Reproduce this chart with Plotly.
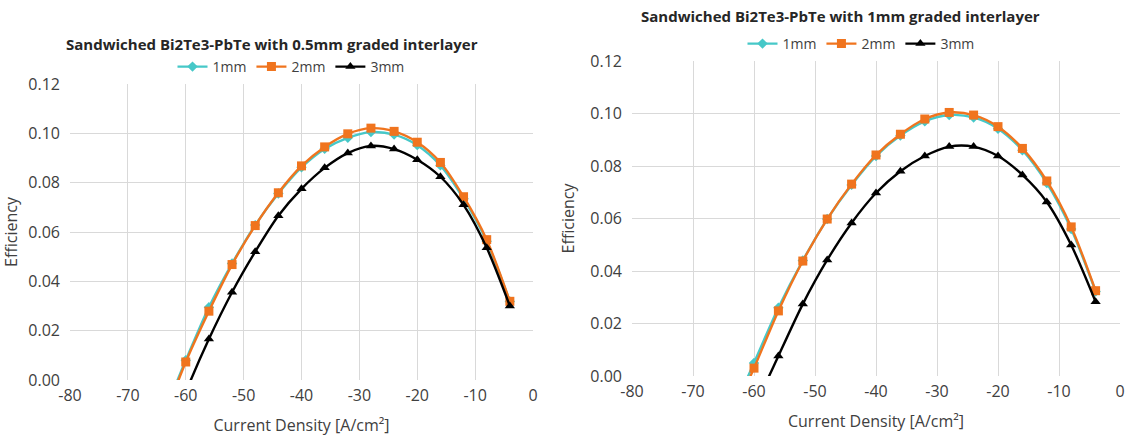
import plotly.graph_objects as go

# Current density sweep [A/cm^2]; the extra leftmost point lies below zero efficiency
current_density = [-64, -60, -56, -52, -48, -44, -40, -36, -32, -28, -24, -20, -16, -12, -8, -4]

# Sandwiched Bi2Te3-PbTe, 0.5 mm graded interlayer
eff_05_1mm = [-0.015, 0.0080, 0.0295, 0.0472, 0.0628, 0.0756, 0.0862, 0.0937, 0.0982, 0.1005, 0.0995, 0.0952, 0.0870, 0.0735, 0.0562, 0.0318]
eff_05_2mm = [-0.017, 0.0073, 0.0279, 0.0468, 0.0626, 0.0759, 0.0868, 0.0945, 0.0998, 0.1021, 0.1008, 0.0964, 0.0882, 0.0743, 0.0569, 0.0319]
eff_05_3mm = [-0.030, -0.005, 0.0166, 0.0356, 0.0520, 0.0666, 0.0775, 0.0860, 0.0920, 0.0949, 0.0936, 0.0893, 0.0824, 0.0710, 0.0536, 0.0300]

# Sandwiched Bi2Te3-PbTe, 1 mm graded interlayer
eff_10_1mm = [-0.016, 0.0050, 0.0260, 0.0440, 0.0598, 0.0728, 0.0838, 0.0916, 0.0970, 0.0994, 0.0985, 0.0942, 0.0860, 0.0735, 0.0560, 0.0322]
eff_10_2mm = [-0.018, 0.0030, 0.0248, 0.0438, 0.0598, 0.0731, 0.0842, 0.0921, 0.0979, 0.1004, 0.0994, 0.0950, 0.0867, 0.0743, 0.0568, 0.0325]
eff_10_3mm = [-0.040, -0.013, 0.0076, 0.0274, 0.0442, 0.0583, 0.0697, 0.0780, 0.0838, 0.0874, 0.0874, 0.0838, 0.0766, 0.0663, 0.0499, 0.0283]

series_names = ["1mm", "2mm", "3mm"]
titles = ["Sandwiched Bi2Te3-PbTe with 0.5mm graded interlayer",
          "Sandwiched Bi2Te3-PbTe with 1mm graded interlayer"]

x_tickvals = [-80, -70, -60, -50, -40, -30, -20, -10, 0]
x_ticktext = ["-80", "-70", "-60", "-50", "-40", "-30", "-20", "-10", "0"]
y_tickvals = [0.0, 0.02, 0.04, 0.06, 0.08, 0.10, 0.12]
y_ticktext = ["0.00", "0.02", "0.04", "0.06", "0.08", "0.10", "0.12"]

W, H = 1130, 437
FONT = "Open Sans"
TXT = "#404040"
colors = ["#46C8C8", "#F0741E", "#000000"]
symbols = ["diamond", "square", "triangle-up"]
msizes = [8, 9, 9]

# plot-area boxes in pixels: (left, right, top, bottom)
boxes = [(70, 533, 84, 380), (632, 1120, 61, 376)]


def px_x(p):
    return p / W


def px_y(p):
    return 1 - p / H


fig = go.Figure()
panels = [[eff_05_1mm, eff_05_2mm, eff_05_3mm], [eff_10_1mm, eff_10_2mm, eff_10_3mm]]

for i, series in enumerate(panels):
    xa = "x" if i == 0 else "x2"
    ya = "y" if i == 0 else "y2"
    lg = "legend" if i == 0 else "legend2"
    for name, vals, c, s, ms in zip(series_names, series, colors, symbols, msizes):
        fig.add_trace(go.Scatter(
            x=current_density, y=vals, name=name, mode="lines+markers",
            line=dict(color=c, width=2.4, shape="spline", smoothing=0.8),
            marker=dict(symbol=s, size=ms, color=c),
            xaxis=xa, yaxis=ya, legend=lg, cliponaxis=True,
        ))

axis_common = dict(
    showgrid=True, gridcolor="#D9D9D9", gridwidth=1, zeroline=False,
    showline=False, ticks="", automargin=False,
    tickfont=dict(family=FONT, size=16, color=TXT),
)

for i, box in enumerate(boxes):
    l, r, t, b = box
    sfx = "" if i == 0 else "2"
    fig.update_layout(**{
        f"xaxis{sfx}": dict(
            domain=[px_x(l), px_x(r)], range=[-80, 0],
            tickmode="array", tickvals=x_tickvals, ticktext=x_ticktext,
            anchor=f"y{sfx}", ticklabelstandoff=4,
            title=dict(text="Current Density [A/cm²]", standoff=14,
                       font=dict(family=FONT, size=16, color=TXT)),
            **axis_common),
        f"yaxis{sfx}": dict(
            domain=[px_y(b), px_y(t)], range=[0, 0.12],
            tickmode="array", tickvals=y_tickvals, ticktext=y_ticktext,
            anchor=f"x{sfx}", ticklabelstandoff=9,
            title=dict(text="Efficiency", standoff=11,
                       font=dict(family=FONT, size=16, color=TXT)),
            **axis_common),
    })

title_y = [44, 16]
legend_y = [67, 44]
legend_cx = [291, 861]
title_cx = [272, 840]

for i in range(2):
    fig.add_annotation(
        text=f"<b>{titles[i]}</b>", x=px_x(title_cx[i]), y=px_y(title_y[i]),
        xref="paper", yref="paper", xanchor="center", yanchor="middle",
        showarrow=False, font=dict(family=FONT, size=15, color="#262626"))

legend_common = dict(
    orientation="h", xanchor="center", yanchor="middle",
    font=dict(family=FONT, size=14, color=TXT),
    bgcolor="rgba(0,0,0,0)", itemwidth=30, tracegroupgap=0,
)
fig.update_layout(
    legend=dict(x=px_x(legend_cx[0]), y=px_y(legend_y[0]), **legend_common),
    legend2=dict(x=px_x(legend_cx[1]), y=px_y(legend_y[1]), **legend_common),
)

fig.update_layout(
    width=W, height=H, margin=dict(l=0, r=0, t=0, b=0),
    paper_bgcolor="white", plot_bgcolor="white", showlegend=True,
)

fig.write_html("out.html")
